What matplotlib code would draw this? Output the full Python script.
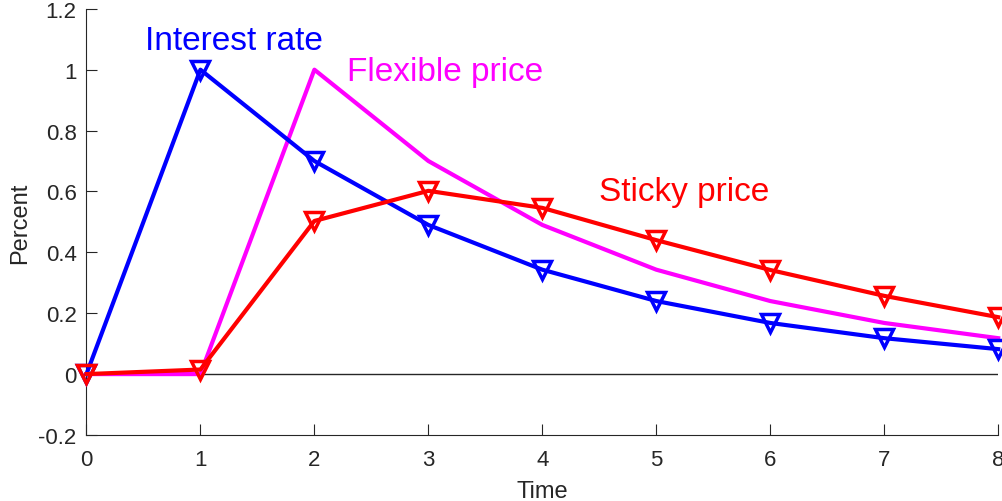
import matplotlib.pyplot as plt
import numpy as np

plt.rcParams['font.family'] = ['Liberation Sans', 'DejaVu Sans']

time = [0, 1, 2, 3, 4, 5, 6, 7, 8]
interest_rate = [0, 1.0, 0.7, 0.49, 0.343, 0.24, 0.168, 0.118, 0.082]
flexible_price = [0, 0, 1.0, 0.7, 0.49, 0.343, 0.24, 0.168, 0.118]
sticky_price = [0, 0.015, 0.503, 0.602, 0.546, 0.44, 0.342, 0.257, 0.187]

axis_color = '#262626'


def main():
    fig = plt.figure(figsize=(10.03, 5.02), dpi=100)
    ax = fig.add_axes([0.0862, 0.1315, 0.909, 0.849])

    ax.axhline(0, color=axis_color, lw=1, zorder=1)
    ax.plot(time, interest_rate, color='#0000ff', lw=3, marker='v',
            ms=13, mfc='none', mew=2.5, clip_on=False, zorder=3)
    ax.plot(time, flexible_price, color='#ff00ff', lw=3, clip_on=False, zorder=2)
    ax.plot(time, sticky_price, color='#ff0000', lw=3, marker='v',
            ms=13, mfc='none', mew=2.5, clip_on=False, zorder=4)

    ax.text(0.51, 1.095, 'Interest rate', color='#0000ff', fontsize=24, va='center')
    ax.text(2.29, 0.995, 'Flexible price', color='#ff00ff', fontsize=24, va='center')
    ax.text(4.5, 0.6, 'Sticky price', color='#ff0000', fontsize=24, va='center')

    ax.set_xlim(0, 8)
    ax.set_ylim(-0.2, 1.2)
    ax.set_xticks(time)
    ax.set_yticks(np.arange(-0.2, 1.21, 0.2))
    ax.set_yticklabels(['-0.2', '0', '0.2', '0.4', '0.6', '0.8', '1', '1.2'])
    ax.set_xlabel('Time', fontsize=17, color=axis_color, labelpad=7)
    ax.set_ylabel('Percent', fontsize=17, color=axis_color, labelpad=5)

    for side in ['top', 'right']:
        ax.spines[side].set_visible(False)
    for side in ['left', 'bottom']:
        ax.spines[side].set_color(axis_color)
        ax.spines[side].set_linewidth(0.8)
    ax.tick_params(direction='in', length=8, width=0.8, colors=axis_color,
                   labelsize=16)
    ax.tick_params(axis='x', pad=10)
    ax.tick_params(axis='y', pad=7)

    fig.savefig('out.png', dpi=100)


if __name__ == "__main__":
    main()
